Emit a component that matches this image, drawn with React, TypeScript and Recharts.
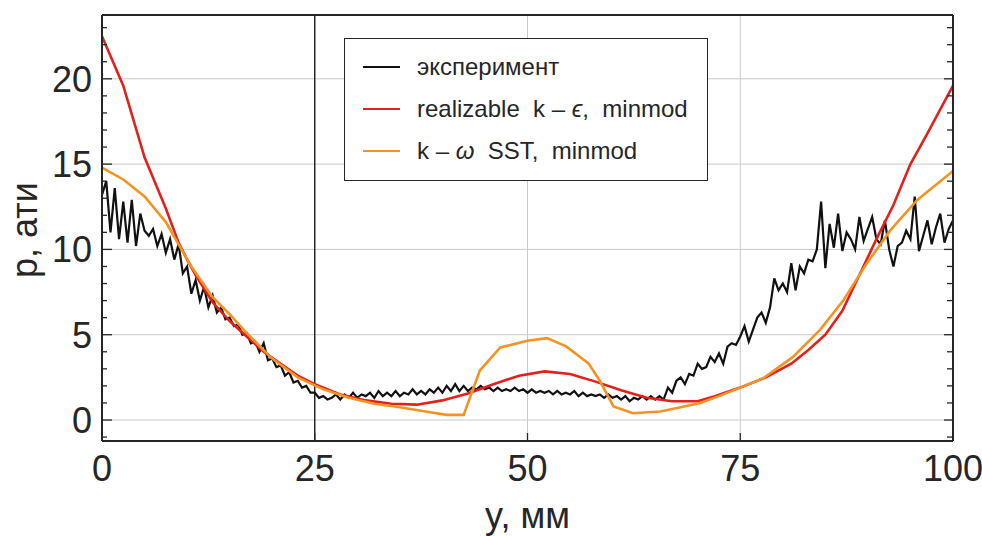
import { Legend, Line, LineChart, ReferenceLine, XAxis, YAxis } from "recharts";

// experiment: pressure sampled every 0.5 mm from y = 0 to 100
const EXP_STEP = 0.5;
const experimentP = [
  13.2, 14.0, 11.0, 13.6, 10.6, 12.8, 10.4, 12.9, 10.2, 12.1,
  11.1, 10.8, 11.2, 10.2, 10.9, 9.8, 10.6, 9.4, 10.3, 8.6,
  9.0, 7.4, 8.2, 7.0, 7.8, 6.6, 7.3, 6.3, 6.6, 5.9,
  6.0, 5.5, 5.6, 5.0, 5.1, 4.5, 4.6, 4.0, 4.5, 3.5,
  3.6, 3.1, 3.2, 2.6, 2.8, 2.2, 2.3, 1.9, 2.0, 1.6,
  1.6, 1.3, 1.4, 1.2, 1.3, 1.5, 1.2, 1.5, 1.3, 1.6,
  1.3, 1.5, 1.4, 1.6, 1.3, 1.7, 1.4, 1.6, 1.4, 1.7,
  1.4, 1.6, 1.5, 1.8, 1.5, 1.7, 1.5, 1.8, 1.6, 1.9,
  1.6, 2.0, 1.7, 2.1, 1.7, 2.0, 1.7, 1.9, 1.8, 2.0,
  1.8, 1.9, 1.7, 1.9, 1.7, 1.8, 1.7, 1.9, 1.7, 1.8,
  1.6, 1.8, 1.6, 1.7, 1.6, 1.7, 1.5, 1.7, 1.5, 1.6,
  1.5, 1.7, 1.4, 1.6, 1.4, 1.5, 1.4, 1.5, 1.3, 1.5,
  1.3, 1.4, 1.2, 1.4, 1.1, 1.3, 1.2, 1.4, 1.2, 1.4,
  1.2, 1.4, 1.2, 1.9, 1.6, 2.3, 2.5, 2.1, 2.7, 2.6,
  3.3, 3.0, 3.1, 3.7, 3.4, 3.9, 3.3, 4.3, 4.5, 4.4,
  4.9, 5.5, 4.6, 5.3, 6.0, 6.3, 5.7, 6.6, 8.3, 7.6,
  8.0, 7.5, 9.2, 7.6, 9.0, 8.6, 9.4, 9.3, 10.0, 12.8,
  8.9, 11.5, 10.1, 12.1, 9.9, 11.0, 10.6, 10.0, 11.9, 10.5,
  11.2, 11.9, 10.6, 10.3, 11.7, 10.0, 9.0, 10.2, 10.4, 11.1,
  10.6, 13.1, 9.9, 10.8, 11.7, 10.3, 11.3, 12.1, 10.4, 11.2,
  11.7,
];

// realizable k-epsilon, minmod
const keY = [0, 2.5, 5, 7.5, 9, 10, 11, 13, 15, 17, 19, 21, 23, 25, 28, 31, 34, 37, 40, 43, 46, 49, 52, 55, 58, 61, 64, 67, 70, 72, 75, 78, 81, 83, 85, 87, 89, 91, 93, 95, 97, 100];
const keP = [22.5, 19.6, 15.4, 12.4, 10.4, 9.4, 8.5, 6.9, 5.8, 4.9, 4.0, 3.3, 2.6, 2.1, 1.5, 1.15, 0.95, 0.9, 1.15, 1.55, 2.1, 2.6, 2.85, 2.7, 2.25, 1.75, 1.3, 1.1, 1.1, 1.4, 1.9, 2.5, 3.3, 4.1, 5.0, 6.4, 8.5, 10.6, 12.6, 15.0, 16.8, 19.6];

// k-omega SST, minmod
const sstY = [0, 2.5, 5, 7.5, 9, 10.5, 13, 15, 17, 20, 23, 26, 29, 32, 35, 38, 40.5, 42.5, 44.4, 46.8, 50, 52.3, 54.6, 57.2, 58.5, 60.1, 62.4, 65.6, 68, 70.3, 72.5, 75, 77.7, 81.2, 84.4, 87.1, 89.9, 92.6, 95.8, 100];
const sstP = [14.8, 14.1, 13.1, 11.6, 10.3, 9.0, 7.2, 6.2, 5.1, 3.6, 2.5, 1.8, 1.3, 0.95, 0.75, 0.5, 0.3, 0.3, 2.9, 4.25, 4.65, 4.8, 4.3, 3.3, 2.3, 0.8, 0.4, 0.5, 0.75, 1.0, 1.4, 1.9, 2.45, 3.7, 5.3, 7.0, 9.2, 11.1, 12.9, 14.6];

const xTicks = [0, 25, 50, 75, 100];
const yTicks = [-1, 0, 1, 2, 3, 4, 5, 6, 7, 8, 9, 10, 11, 12, 13, 14, 15, 16, 17, 18, 19, 20, 21, 22, 23];
const gridP = [0, 5, 10, 15, 20];
const gridY = [50, 75];

const seriesNames = ["эксперимент", "realizable k – ϵ, minmod", "k – ω SST, minmod"];
const seriesColors = ["#111111", "#e3201b", "#f39323"];

const Y_MIN = -1.23;
const Y_MAX = 23.74;
const FONT = "'Liberation Sans', Arial, sans-serif";
const INK = "#262626";

const expData = experimentP.map((p, i) => ({ y: i * EXP_STEP, p }));
const keData = keY.map((y, i) => ({ y, p: keP[i] }));
const sstData = sstY.map((y, i) => ({ y, p: sstP[i] }));

const LeftTick = (props: any) => {
  const { x, y, payload } = props;
  const major = payload.value % 5 === 0;
  const ax = x + 10;
  return (
    <g>
      <line x1={ax} x2={ax + (major ? 10 : 5)} y1={y} y2={y} stroke={INK} strokeWidth={1.3} />
      {major && payload.value >= 0 && (
        <text x={x} y={y} dy="0.36em" textAnchor="end" fontSize={36} fontFamily={FONT} fill={INK}>
          {payload.value}
        </text>
      )}
    </g>
  );
};

const RightTick = (props: any) => {
  const { x, y, payload } = props;
  const major = payload.value % 5 === 0;
  return <line x1={x} x2={x - (major ? 9 : 6)} y1={y} y2={y} stroke={INK} strokeWidth={1.3} />;
};

const BottomTick = (props: any) => {
  const { x, y, payload } = props;
  const ay = y - 14;
  return (
    <g>
      <line x1={x} x2={x} y1={ay} y2={ay - 8} stroke={INK} strokeWidth={1.3} />
      <text x={x} y={y} dy="0.71em" textAnchor="middle" fontSize={36} fontFamily={FONT} fill={INK}>
        {payload.value}
      </text>
    </g>
  );
};

const LegendBox = () => (
  <div
    style={{
      width: 364,
      height: 143,
      boxSizing: "border-box",
      border: `1.5px solid ${INK}`,
      background: "#fff",
      paddingTop: 7,
      fontFamily: FONT,
      fontSize: 24,
      color: INK,
    }}
  >
    {seriesNames.map((name, i) => (
      <div key={name} style={{ height: 42, display: "flex", alignItems: "center" }}>
        <span style={{ marginLeft: 18, width: 37, height: 2.5, background: seriesColors[i], marginRight: 17 }} />
        <span style={{ whiteSpace: "pre" }}>
          {i === 0 && name}
          {i === 1 && (
            <>
              {"realizable  k – "}
              <i>ϵ</i>
              {",  minmod"}
            </>
          )}
          {i === 2 && (
            <>
              {"k – "}
              <i>ω</i>
              {"  SST,  minmod"}
            </>
          )}
        </span>
      </div>
    ))}
  </div>
);

export default function App() {
  return (
    <div>
      <style>{"body{margin:0;background:#fff}"}</style>
      <LineChart width={982} height={536} margin={{ top: 15, right: 0, bottom: 0, left: 0 }}>
        <XAxis
          dataKey="y"
          type="number"
          domain={[0, 100]}
          ticks={xTicks}
          interval={0}
          height={95}
          tickSize={0}
          tickMargin={14}
          tick={<BottomTick />}
          axisLine={{ stroke: INK, strokeWidth: 2 }}
          label={{ value: "y, мм", position: "insideBottom", offset: 8, fontSize: 36, fontFamily: FONT, fill: INK }}
        />
        <YAxis
          type="number"
          domain={[Y_MIN, Y_MAX]}
          allowDataOverflow
          ticks={yTicks}
          interval={0}
          width={102}
          tickSize={0}
          tickMargin={10}
          tick={<LeftTick />}
          axisLine={{ stroke: INK, strokeWidth: 2 }}
          label={{
            content: () => (
              <text transform="translate(37,230) rotate(-90)" textAnchor="middle" fontSize={36} fontFamily={FONT} fill={INK}>
                p, ати
              </text>
            ),
          }}
        />
        <YAxis
          yAxisId="r"
          orientation="right"
          type="number"
          domain={[Y_MIN, Y_MAX]}
          allowDataOverflow
          ticks={yTicks}
          interval={0}
          width={29}
          tickSize={0}
          tickMargin={0}
          tick={<RightTick />}
          axisLine={{ stroke: INK, strokeWidth: 2 }}
        />
        {gridP.map((v) => (
          <ReferenceLine key={`h${v}`} y={v} stroke="#c9c9c9" strokeWidth={1} />
        ))}
        {gridY.map((v) => (
          <ReferenceLine key={`v${v}`} x={v} stroke="#c9c9c9" strokeWidth={1} />
        ))}
        <ReferenceLine x={25} stroke="#1a1a1a" strokeWidth={1.4} />
        <ReferenceLine y={Y_MAX} stroke={INK} strokeWidth={2} />
        <Legend
          layout="vertical"
          align="center"
          verticalAlign="middle"
          wrapperStyle={{ left: 344, top: 38, width: 364 }}
          content={() => <LegendBox />}
        />
        <Line data={expData} dataKey="p" type="linear" dot={false} stroke={seriesColors[0]} strokeWidth={2.2} isAnimationActive={false} />
        <Line data={keData} dataKey="p" type="linear" dot={false} stroke={seriesColors[1]} strokeWidth={2.6} isAnimationActive={false} />
        <Line data={sstData} dataKey="p" type="linear" dot={false} stroke={seriesColors[2]} strokeWidth={2.6} isAnimationActive={false} />
      </LineChart>
    </div>
  );
}
